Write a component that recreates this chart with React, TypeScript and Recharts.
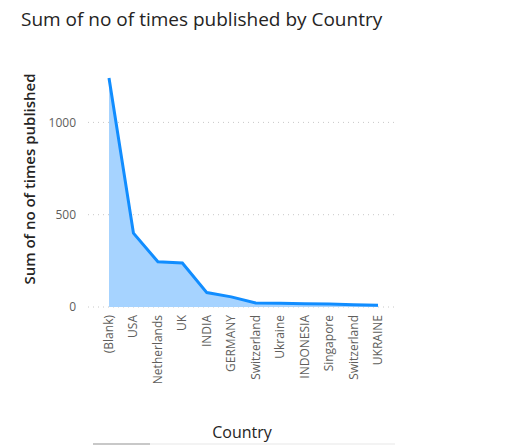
import { Area, AreaChart, CartesianGrid, XAxis, YAxis } from "recharts"

// values
const countries = [
  "(Blank)",
  "USA",
  "Netherlands",
  "UK",
  "INDIA",
  "GERMANY",
  "Switzerland",
  "Ukraine",
  "INDONESIA",
  "Singapore",
  "Switzerland ",
  "UKRAINE",
]
const published = [1240, 400, 245, 238, 78, 55, 22, 20, 18, 16, 12, 10]
const yTicks = [0, 500, 1000]

const data = countries.map((name, i) => ({ name, value: published[i] }))

const FONT = "'Segoe UI', 'Open Sans', 'Noto Sans', sans-serif"

function CountryTick(props: any) {
  const { x, y, payload } = props
  return (
    <text
      transform={`translate(${x},${y}) rotate(-90)`}
      textAnchor="end"
      dy={4}
      fontSize={12}
      fill="#605E5C"
      fontFamily={FONT}
    >
      {payload.value}
    </text>
  )
}

export default function App() {
  return (
    <div style={{ position: "absolute", left: 0, top: 0, width: 525, height: 445, background: "#fff" }}>
      <div
        style={{
          position: "absolute",
          left: 21,
          top: 6,
          fontFamily: FONT,
          fontSize: 19,
          color: "#252423",
          whiteSpace: "nowrap",
        }}
      >
        Sum of no of times published by Country
      </div>
      <AreaChart
        width={525}
        height={445}
        data={data}
        margin={{ top: 67, right: 130, bottom: 0, left: 0 }}
      >
        <CartesianGrid
          horizontal
          vertical={false}
          horizontalValues={yTicks}
          stroke="#C8C8C8"
          strokeDasharray="1 4"
        />
        <XAxis
          dataKey="name"
          tick={<CountryTick />}
          tickLine={false}
          axisLine={false}
          interval={0}
          padding={{ left: 21, right: 17 }}
          height={138}
        />
        <YAxis
          domain={[0, 1300]}
          ticks={yTicks}
          tickLine={false}
          axisLine={false}
          width={88}
          tick={{ fontSize: 12, fill: "#605E5C", fontFamily: FONT }}
          tickMargin={6}
        />
        <Area
          type="linear"
          dataKey="value"
          stroke="#118DFF"
          strokeWidth={3}
          fill="#A6D3FF"
          fillOpacity={1}
          dot={false}
          activeDot={false}
          isAnimationActive={false}
        />
      </AreaChart>
      <div
        style={{
          position: "absolute",
          left: 29,
          top: 179,
          transform: "translate(-50%, -50%) rotate(-90deg)",
          fontFamily: FONT,
          fontSize: 15,
          fontWeight: 600,
          color: "#252423",
          whiteSpace: "nowrap",
        }}
      >
        Sum of no of times published
      </div>
      <div
        style={{
          position: "absolute",
          left: 242,
          top: 421,
          transform: "translateX(-50%)",
          fontFamily: FONT,
          fontSize: 16,
          color: "#252423",
          whiteSpace: "nowrap",
        }}
      >
        Country
      </div>
      <div style={{ position: "absolute", left: 93, top: 443, width: 302, height: 2, background: "#F3F3F3" }} />
      <div style={{ position: "absolute", left: 93, top: 443, width: 57, height: 2, background: "#C8C8C8" }} />
    </div>
  )
}
